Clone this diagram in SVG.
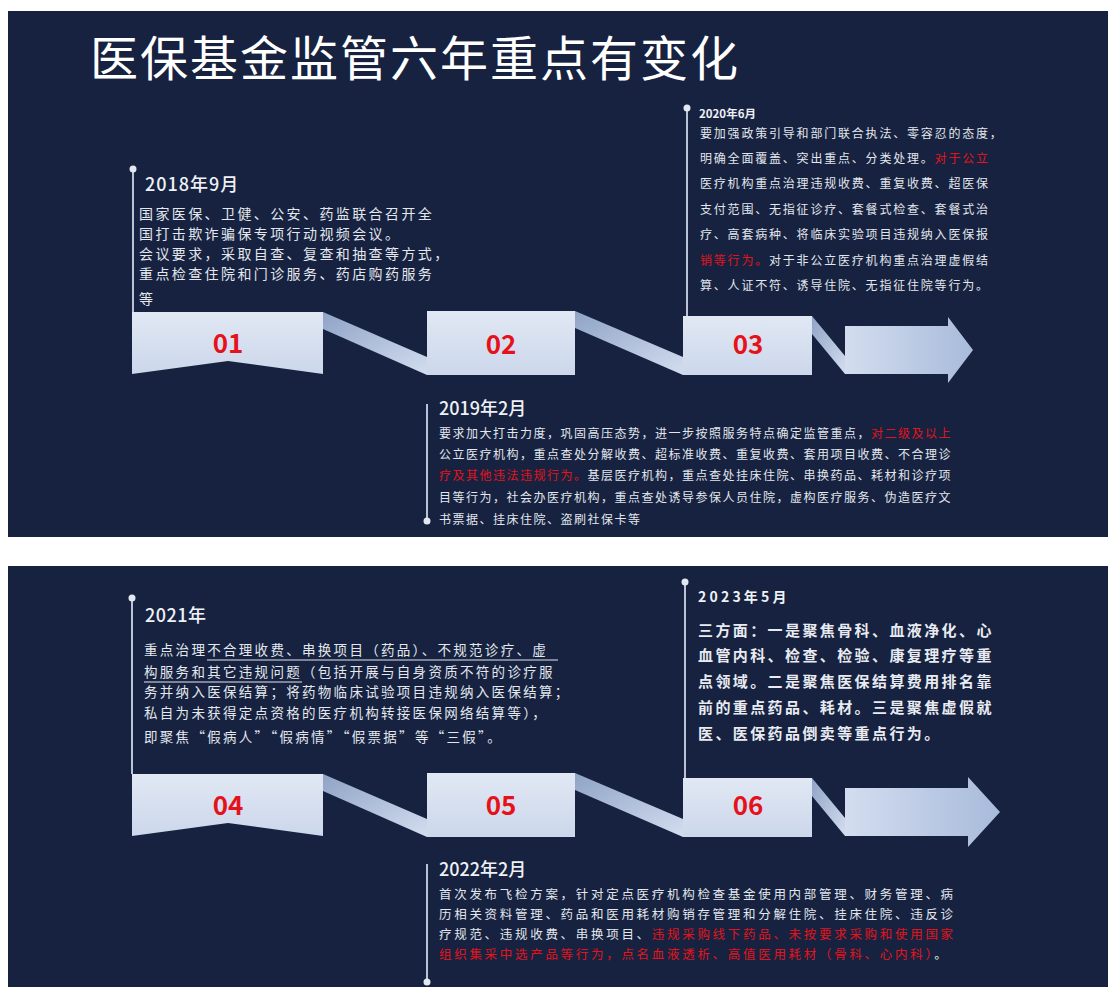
<svg xmlns="http://www.w3.org/2000/svg" width="1110" height="987" viewBox="0 0 1110 987">
<style>
text{font-family:"Noto Sans CJK SC","Noto Sans",sans-serif}
.ttl{fill:#ffffff;font-size:48px;font-weight:400;letter-spacing:2px}
.yr{fill:#eef1f6;font-size:18px;font-weight:500}
.w{fill:#e3e7ee}
.r{fill:#e3141c}
.b18{font-size:14px;letter-spacing:2.4px;fill:#e3e7ee}
.b20{font-size:12px;letter-spacing:1.8px;fill:#e3e7ee}
.b19{font-size:12px;letter-spacing:1.5px;fill:#e3e7ee}
.b21{font-size:13.5px;letter-spacing:2.3px;fill:#e3e7ee}
.b23{font-size:15px;letter-spacing:2.4px;font-weight:700;fill:#e8ebf1}
.b22{font-size:12.5px;letter-spacing:2.7px;fill:#e3e7ee}
.num{fill:#e5121b;font-size:26px;font-weight:700;text-anchor:middle}
.box{fill:url(#boxG)}
.band{fill:url(#bandG)}
.arr{fill:url(#arrG)}
.vl{stroke:#b9c3d7;stroke-width:2;fill:none}
.dot{fill:#e2e8f2}
.ul{stroke:#e3e7ee;stroke-width:1}
</style>
<defs>
<linearGradient id="boxG" x1="0" y1="0" x2="0" y2="1">
<stop offset="0" stop-color="#e1e8f4"/><stop offset="1" stop-color="#ccd7eb"/>
</linearGradient>
<linearGradient id="bandG" x1="0" y1="0" x2="1" y2="1">
<stop offset="0" stop-color="#8fa3c6"/><stop offset="1" stop-color="#d3ddef"/>
</linearGradient>
<linearGradient id="arrG" x1="0" y1="0" x2="1" y2="0">
<stop offset="0" stop-color="#d3ddef"/><stop offset="1" stop-color="#a8bbdb"/>
</linearGradient>
</defs>
<rect x="0" y="0" width="1110" height="987" fill="#ffffff"/>
<rect x="8" y="11" width="1100" height="526" fill="#16223f"/>
<rect x="8" y="566" width="1100" height="421" fill="#16223f"/>

<g id="title">
<text class="ttl" x="90" y="76">医保基金监管六年重点有变化</text>
</g>

<g id="connectors">
<polygon class="band" points="323,312 427,357 427,375 323,329"/>
<polygon class="band" points="575,311 683,357 683,375 575,328"/>
<polygon class="band" points="812,316 845,356 845,374 812,334"/>
<polygon class="band" points="323,774 427,819 427,837 323,791"/>
<polygon class="band" points="575,773 683,819 683,837 575,790"/>
<polygon class="band" points="812,778 845,818 845,836 812,796"/>
<line class="vl" x1="133" y1="169" x2="133" y2="312"/>
<circle class="dot" cx="133" cy="169" r="3.5"/>
<line class="vl" x1="687" y1="108" x2="687" y2="316"/>
<circle class="dot" cx="687" cy="108" r="3.5"/>
<line class="vl" x1="427" y1="404" x2="427" y2="521"/>
<circle class="dot" cx="427" cy="521" r="3.5"/>
<line class="vl" x1="132" y1="598" x2="132" y2="774"/>
<circle class="dot" cx="132" cy="598" r="3.5"/>
<line class="vl" x1="685" y1="582" x2="685" y2="778"/>
<circle class="dot" cx="685" cy="582" r="3.5"/>
<line class="vl" x1="427" y1="864" x2="427" y2="982"/>
<circle class="dot" cx="427" cy="982" r="3.5"/>
</g>

<g id="node-01">
<polygon class="box" points="132,312 323,312 323,374 228,361 132,374"/>
<text class="num" x="228" y="353">01</text>
</g>
<g id="node-02">
<rect class="box" x="427" y="311" width="148" height="64"/>
<text class="num" x="501" y="354">02</text>
</g>
<g id="node-03">
<rect class="box" x="683" y="316" width="129" height="59"/>
<text class="num" x="748" y="354">03</text>
</g>
<g id="arrow-top">
<polygon class="arr" points="845,326 948,326 948,317 973,350 948,383 948,374 845,374"/>
</g>
<g id="node-04">
<polygon class="box" points="132,774 323,774 323,836 228,823 132,836"/>
<text class="num" x="228" y="815">04</text>
</g>
<g id="node-05">
<rect class="box" x="427" y="773" width="148" height="64"/>
<text class="num" x="501" y="815">05</text>
</g>
<g id="node-06">
<rect class="box" x="683" y="778" width="129" height="59"/>
<text class="num" x="748" y="815">06</text>
</g>
<g id="arrow-bottom">
<polygon class="arr" points="845,788 968,788 968,777 1000,812 968,847 968,836 845,836"/>
</g>

<g id="text-2018">
<text class="yr" x="145" y="191" letter-spacing="1">2018年9月</text>
<text class="b18" x="139" y="219">国家医保、卫健、公安、药监联合召开全</text>
<text class="b18" x="139" y="239">国打击欺诈骗保专项行动视频会议。</text>
<text class="b18" x="139" y="259">会议要求，采取自查、复查和抽查等方式，</text>
<text class="b18" x="139" y="279">重点检查住院和门诊服务、药店购药服务</text>
<text class="b18" x="139" y="304">等</text>
</g>

<g id="text-2020">
<text x="699" y="118" font-size="11.5" font-weight="700" fill="#eef1f6">2020年6月</text>
<text class="b20" x="700" y="138">要加强政策引导和部门联合执法、零容忍的态度，</text>
<text class="b20" x="700" y="163">明确全面覆盖、突出重点、分类处理。<tspan class="r">对于公立</tspan></text>
<text class="b20 r" x="700" y="188">医疗机构重点治理违规收费、重复收费、超医保</text>
<text class="b20 r" x="700" y="214">支付范围、无指征诊疗、套餐式检查、套餐式治</text>
<text class="b20 r" x="700" y="239">疗、高套病种、将临床实验项目违规纳入医保报</text>
<text class="b20" x="700" y="265"><tspan class="r">销等行为。</tspan>对于非公立医疗机构重点治理虚假结</text>
<text class="b20" x="700" y="290">算、人证不符、诱导住院、无指征住院等行为。</text>
</g>

<g id="text-2019">
<text class="yr" x="439" y="415">2019年2月</text>
<text class="b19" x="439" y="438">要求加大打击力度，巩固高压态势，进一步按照服务特点确定监管重点，<tspan class="r">对二级及以上</tspan></text>
<text class="b19 r" x="439" y="459">公立医疗机构，重点查处分解收费、超标准收费、重复收费、套用项目收费、不合理诊</text>
<text class="b19" x="439" y="480"><tspan class="r">疗及其他违法违规行为。</tspan>基层医疗机构，重点查处挂床住院、串换药品、耗材和诊疗项</text>
<text class="b19" x="439" y="502">目等行为，社会办医疗机构，重点查处诱导参保人员住院，虚构医疗服务、伪造医疗文</text>
<text class="b19" x="439" y="524">书票据、挂床住院、盗刷社保卡等</text>
</g>

<g id="text-2021">
<text class="yr" x="145" y="622" letter-spacing="0.5">2021年</text>
<text class="b21" x="144" y="655">重点治理不合理收费、串换项目（药品）、不规范诊疗、虚</text>
<text class="b21" x="144" y="677">构服务和其它违规问题（包括开展与自身资质不符的诊疗服</text>
<text class="b21" x="144" y="697">务并纳入医保结算；将药物临床试验项目违规纳入医保结算；</text>
<text class="b21" x="144" y="718">私自为未获得定点资格的医疗机构转接医保网络结算等），</text>
<text class="b21" x="144" y="742">即聚焦“假病人”“假病情”“假票据”等“三假”。</text>
<line class="ul" x1="207" y1="660" x2="558" y2="660"/>
<line class="ul" x1="144" y1="682" x2="302" y2="682"/>
</g>

<g id="text-2023">
<text x="698" y="602" font-size="14" font-weight="700" letter-spacing="3.2" fill="#eef1f6">2023年5月</text>
<text class="b23" x="698" y="636">三方面：一是聚焦骨科、血液净化、心</text>
<text class="b23" x="698" y="661">血管内科、检查、检验、康复理疗等重</text>
<text class="b23" x="698" y="687">点领域。二是聚焦医保结算费用排名靠</text>
<text class="b23" x="698" y="713">前的重点药品、耗材。三是聚焦虚假就</text>
<text class="b23" x="698" y="739">医、医保药品倒卖等重点行为。</text>
</g>

<g id="text-2022">
<text class="yr" x="439" y="876">2022年2月</text>
<text class="b22" x="439" y="899">首次发布飞检方案，针对定点医疗机构检查基金使用内部管理、财务管理、病</text>
<text class="b22" x="439" y="919">历相关资料管理、药品和医用耗材购销存管理和分解住院、挂床住院、违反诊</text>
<text class="b22" x="439" y="939">疗规范、违规收费、串换项目、<tspan class="r">违规采购线下药品、未按要求采购和使用国家</tspan></text>
<text class="b22" x="439" y="959"><tspan class="r">组织集采中选产品等行为，点名血液透析、高值医用耗材（骨科、心内科）</tspan>。</text>
</g>
</svg>
